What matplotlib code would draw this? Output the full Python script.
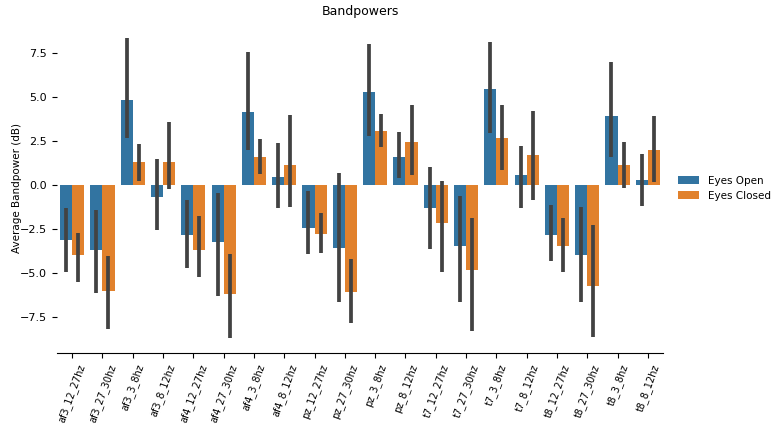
import numpy as np
import matplotlib.pyplot as plt

# === Données ===
categories = ["af3_12_27hz", "af3_27_30hz", "af3_3_8hz", "af3_8_12hz",
              "af4_12_27hz", "af4_27_30hz", "af4_3_8hz", "af4_8_12hz",
              "pz_12_27hz", "pz_27_30hz", "pz_3_8hz", "pz_8_12hz",
              "t7_12_27hz", "t7_27_30hz", "t7_3_8hz", "t7_8_12hz",
              "t8_12_27hz", "t8_27_30hz", "t8_3_8hz", "t8_8_12hz"]

open_mean = [-3.13, -3.68, 4.86, -0.70, -2.85, -3.21, 4.14, 0.44,
             -2.42, -3.57, 5.29, 1.57, -1.32, -3.45, 5.48, 0.55,
             -2.83, -3.98, 3.91, 0.28]
open_lo = [-4.93, -6.15, 2.65, -2.57, -4.72, -6.29, 1.97, -1.28,
           -3.93, -6.67, 2.80, 0.40, -3.66, -6.67, 2.95, -1.30,
           -4.32, -6.67, 1.60, -1.19]
open_hi = [-1.28, -1.43, 8.35, 1.47, -0.83, -0.45, 7.57, 2.40,
           -0.36, 0.70, 8.00, 3.02, 1.00, -0.62, 8.12, 2.23,
           -1.13, -1.25, 7.00, 1.78]

closed_mean = [-4.00, -6.00, 1.32, 1.29, -3.68, -6.17, 1.60, 1.12,
               -2.77, -6.08, 3.10, 2.44, -2.15, -4.85, 2.65, 1.68,
               -3.49, -5.74, 1.16, 2.02]
closed_lo = [-5.53, -8.19, 0.25, -0.25, -5.25, -8.70, 0.65, -1.25,
             -3.87, -7.84, 2.17, 0.59, -4.95, -8.27, 0.87, -0.87,
             -4.97, -8.65, -0.19, 0.17]
closed_hi = [-2.72, -4.06, 2.36, 3.57, -1.77, -3.93, 2.60, 4.00,
             -1.60, -4.21, 4.06, 4.55, 0.25, -1.89, 4.57, 4.21,
             -1.89, -2.25, 2.46, 3.95]

series = [("Eyes Open", open_mean, open_lo, open_hi, "#3274a1"),
          ("Eyes Closed", closed_mean, closed_lo, closed_hi, "#e1812c")]

# === Tracé ===
fig = plt.figure(figsize=(7.75, 4.29), dpi=100)
ax = fig.add_axes([0.0735, 0.177, 0.782, 0.769])

x = np.arange(len(categories))
width = 0.4
for i, (name, mean, lo, hi, color) in enumerate(series):
    pos = x - width / 2 + i * width
    ax.bar(pos, mean, width=width, color=color, label=name)
    ax.vlines(pos, lo, hi, color="#424242", linewidth=2.7, zorder=3)

ax.set_xlim(-0.5, len(categories) - 0.5)
ax.set_xticks(x)
ax.set_xticklabels(categories, rotation=70, fontsize=7)
ax.set_yticks([-7.5, -5.0, -2.5, 0.0, 2.5, 5.0, 7.5])
ax.tick_params(axis="y", labelsize=8)
ax.set_ylabel("Average Bandpower (dB)", fontsize=7.5, labelpad=-1)
ax.set_title("Bandpowers", fontsize=9)

for side in ["top", "right", "left"]:
    ax.spines[side].set_visible(False)

ax.legend(loc="center left", bbox_to_anchor=(1.01, 0.5), frameon=False,
          fontsize=7.5)

fig.savefig("out.png", dpi=100)
